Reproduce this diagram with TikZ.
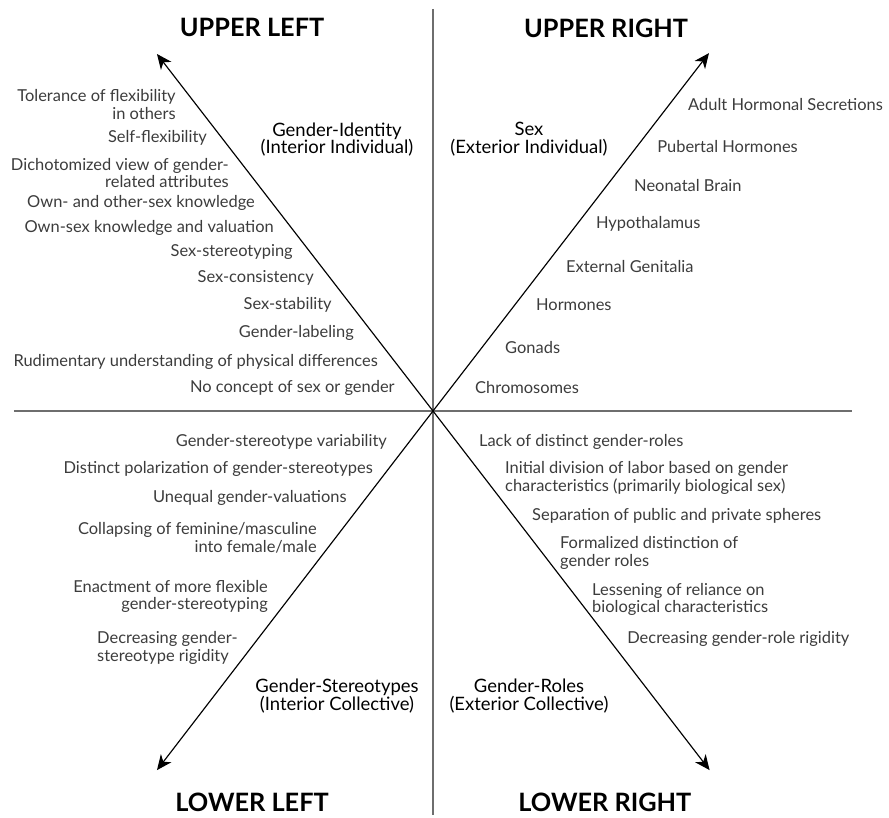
\documentclass[tikz,border=0pt]{standalone}
\usepackage{fontspec}
\setmainfont{Lato}
\usepackage{xcolor}
\usepackage{tikz}
\usetikzlibrary{arrows.meta}

\definecolor{itemgray}{HTML}{3C3C3C}
\definecolor{axisgray}{HTML}{6E6E6E}

\tikzset{
  axisline/.style={draw=axisgray,line width=1.8pt},
  devarrow/.style={draw=black,line width=1.1pt,->},
  item/.style={text=itemgray,font=\fontsize{15.6}{16.8}\selectfont,inner sep=0pt},
  itemL/.style={item,anchor=east,align=right},
  itemR/.style={item,anchor=west,align=left},
  quadlabel/.style={font=\fontsize{17.5}{16.8}\selectfont,align=center,inner sep=0pt},
  quadtitle/.style={font=\fontsize{24}{28}\selectfont\bfseries,inner sep=0pt}
}

\begin{document}
\begin{tikzpicture}[>={Stealth[length=5mm,width=4.4mm,inset=1.5mm]}]
  \useasboundingbox (-14.433,-13.533) rectangle (15.2,13.7);

  % Achsen
  \coordinate (O) at (0,0);
  \coordinate (top) at (0,13.4);
  \coordinate (bottom) at (0,-13.47);
  \coordinate (left) at (-13.97,0);
  \coordinate (right) at (13.97,0);
  \draw[axisline] (top)--(bottom);
  \draw[axisline] (left)--(right);

  % Entwicklungspfeile
  \coordinate (ulTip) at (-9.2,11.9);
  \coordinate (urTip) at (9.2,11.93);
  \coordinate (llTip) at (-9.2,-11.97);
  \coordinate (lrTip) at (9.22,-11.97);
  \draw[devarrow] (O)--(ulTip);
  \draw[devarrow] (O)--(urTip);
  \draw[devarrow] (O)--(llTip);
  \draw[devarrow] (O)--(lrTip);

  % Oben links
  \node[quadtitle] (ulTitle) at (-6.03,12.77) {UPPER LEFT};
  \node[quadlabel] (ulLabel) at (-3.2,9.05) {Gender-Identity\\(Interior Individual)};
  \node[itemL] (ul1) at (-8.57,10.22) {Tolerance of flexibility\\in others};
  \node[itemL] (ul2) at (-7.53,9.1) {Self-flexibility};
  \node[itemL] (ul3) at (-6.8,7.93) {Dichotomized view of gender-\\related attributes};
  \node[itemL] (ul4) at (-5.93,6.93) {Own- and other-sex knowledge};
  \node[itemL] (ul5) at (-5.3,6.1) {Own-sex knowledge and valuation};
  \node[itemL] (ul6) at (-4.67,5.3) {Sex-stereotyping};
  \node[itemL] (ul7) at (-3.97,4.43) {Sex-consistency};
  \node[itemL] (ul8) at (-3.37,3.53) {Sex-stability};
  \node[itemL] (ul9) at (-2.63,2.6) {Gender-labeling};
  \node[itemL] (ul10) at (-1.83,1.63) {Rudimentary understanding of physical differences};
  \node[itemL] (ul11) at (-1.27,0.77) {No concept of sex or gender};

  % Oben rechts
  \node[quadtitle] (urTitle) at (5.77,12.77) {UPPER RIGHT};
  \node[quadlabel] (urLabel) at (3.2,9.05) {Sex\\(Exterior Individual)};
  \node[itemR] (ur1) at (8.5,10.23) {Adult Hormonal Secretions};
  \node[itemR] (ur2) at (7.47,8.8) {Pubertal Hormones};
  \node[itemR] (ur3) at (6.7,7.53) {Neonatal Brain};
  \node[itemR] (ur4) at (5.43,6.23) {Hypothalamus};
  \node[itemR] (ur5) at (4.43,4.83) {External Genitalia};
  \node[itemR] (ur6) at (3.43,3.53) {Hormones};
  \node[itemR] (ur7) at (2.4,2.1) {Gonads};
  \node[itemR] (ur8) at (1.4,0.77) {Chromosomes};

  % Unten links
  \node[quadtitle] (llTitle) at (-6.03,-13.03) {LOWER LEFT};
  \node[quadlabel] (llLabel) at (-3.2,-9.5) {Gender-Stereotypes\\(Interior Collective)};
  \node[itemL] (ll1) at (-1.53,-1.03) {Gender-stereotype variability};
  \node[itemL] (ll2) at (-2.0,-1.93) {Distinct polarization of gender-stereotypes};
  \node[itemL] (ll3) at (-2.87,-2.9) {Unequal gender-valuations};
  \node[itemL] (ll4) at (-3.87,-4.23) {Collapsing of feminine/masculine\\into female/male};
  \node[itemL] (ll5) at (-5.5,-6.18) {Enactment of more flexible\\gender-stereotyping};
  \node[itemR] (ll6) at (-11.2,-7.9) {Decreasing gender-\\stereotype rigidity};

  % Unten rechts
  \node[quadtitle] (lrTitle) at (5.73,-13.03) {LOWER RIGHT};
  \node[quadlabel] (lrLabel) at (3.2,-9.5) {Gender-Roles\\(Exterior Collective)};
  \node[itemR] (lr1) at (1.53,-1.03) {Lack of distinct gender-roles};
  \node[itemR] (lr2) at (2.4,-2.23) {Initial division of labor based on gender\\characteristics (primarily biological sex)};
  \node[itemR] (lr3) at (3.3,-3.5) {Separation of public and private spheres};
  \node[itemR] (lr4) at (4.23,-4.73) {Formalized distinction of\\gender roles};
  \node[itemR] (lr5) at (5.3,-6.28) {Lessening of reliance on\\biological characteristics};
  \node[itemR] (lr6) at (6.47,-7.6) {Decreasing gender-role rigidity};

\end{tikzpicture}
\end{document}
